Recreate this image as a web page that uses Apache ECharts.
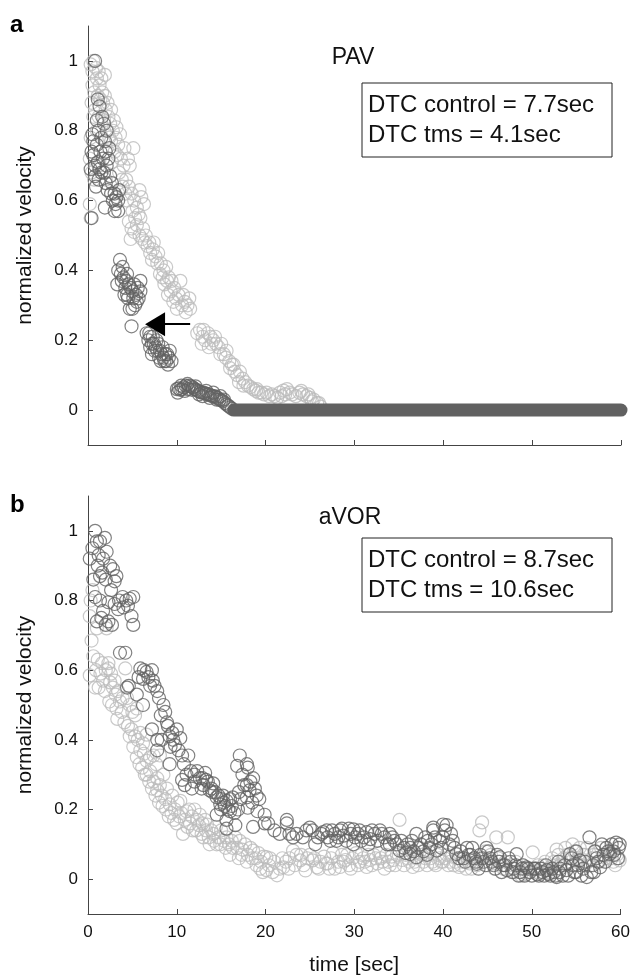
<!DOCTYPE html>
<html>
<head>
<meta charset="utf-8">
<script src="https://cdn.jsdelivr.net/npm/echarts@6/dist/echarts.min.js"></script>
<style>
  html, body { margin: 0; padding: 0; background: #fff; }
  #chart { width: 633px; height: 977px; }
</style>
</head>
<body>
<div id="chart"></div>
<script>
// panel a (PAV): control (light) and tms (dark), [time sec, normalized velocity]
const ctrlA = [
  [0.3,0.99],[0.6,1.0],[0.9,0.98],[1.2,0.97],[1.5,0.95],[1.9,0.96],[0.5,0.93],[0.4,0.88],[0.8,0.86],[1.1,0.9],
  [1.4,0.89],[1.7,0.88],[2.0,0.86],[2.3,0.84],[2.5,0.82],[2.2,0.8],[1.0,0.8],[0.3,0.78],[2.8,0.8],[3.1,0.78],
  [3.4,0.76],[2.6,0.77],[0.2,0.72],[0.4,0.68],[0.7,0.66],[1.2,0.7],[3.0,0.74],[3.7,0.72],[4.0,0.7],[3.5,0.68],
  [4.3,0.66],[4.7,0.7],[5.1,0.75],[4.6,0.64],[4.9,0.62],[5.2,0.6],[5.5,0.58],[4.2,0.62],[3.9,0.64],[5.8,0.63],
  [6.0,0.61],[6.3,0.59],[5.7,0.56],[0.2,0.59],[0.3,0.55],[2.0,0.66],
  [0.5,0.97],[1.0,0.95],[1.3,0.93],[0.7,0.91],[1.6,0.91],[1.9,0.9],[2.2,0.88],[0.6,0.84],[1.2,0.84],[1.8,0.83],
  [2.6,0.86],[2.9,0.83],[3.2,0.81],[2.4,0.78],[3.6,0.79],[3.3,0.73],[2.7,0.71],[4.1,0.75],[4.5,0.72],[3.8,0.66],
  [4.4,0.6],[5.0,0.57],[5.3,0.55],[5.9,0.55],
  [4.6,0.54],[4.9,0.52],[5.2,0.51],[5.5,0.53],[5.8,0.5],[6.1,0.49],[4.8,0.49],[6.4,0.48],[6.7,0.47],[6.2,0.52],
  [6.5,0.5],[6.9,0.48],[7.4,0.48],
  [7.0,0.45],[7.3,0.46],[7.6,0.44],[7.9,0.45],[7.2,0.43],[8.2,0.42],[7.8,0.42],[8.1,0.39],
  [8.5,0.4],[8.8,0.41],[9.1,0.38],[8.6,0.36],[9.4,0.37],[9.7,0.35],[9.0,0.33],[9.9,0.32],[10.2,0.33],[10.4,0.37],
  [10.6,0.3],[10.9,0.31],[11.2,0.3],[11.5,0.29],[10.0,0.29],[9.6,0.31],[11.0,0.28],[8.4,0.38],[8.9,0.37],[9.3,0.34],
  [10.7,0.33],[11.4,0.32],
  [12.3,0.22],[12.6,0.23],[12.9,0.21],[13.2,0.2],[13.5,0.22],[13.8,0.21],[14.1,0.2],[14.4,0.19],[14.7,0.18],[15.0,0.19],
  [12.8,0.19],[13.6,0.18],[15.3,0.16],[15.6,0.17],[15.9,0.14],[16.2,0.13],[16.0,0.12],[16.5,0.11],[16.8,0.1],[17.1,0.11],
  [13.0,0.23],[13.9,0.19],[14.3,0.21],[14.9,0.16],[15.5,0.15],[16.4,0.13],[17.0,0.08],[17.5,0.07],
  [17.4,0.09],[17.7,0.08],[18.0,0.07],[18.3,0.066],[18.6,0.06],[18.9,0.055],[19.2,0.05],[19.5,0.05],[19.8,0.045],[20.1,0.05],
  [20.4,0.04],[20.7,0.045],[21.0,0.04],[21.3,0.035],[21.6,0.05],[22.0,0.056],[22.4,0.06],[22.7,0.05],[23.0,0.045],[23.4,0.04],
  [23.8,0.05],[24.2,0.045],[24.6,0.04],[25.0,0.035],[25.4,0.03],[25.8,0.02],[26.2,0.01],[19.0,0.06],[21.8,0.04],[22.2,0.045],
  [24.0,0.055],[24.8,0.045],[25.2,0.025],[26.0,0.02]
]
const tmsA = [
  [0.8,1.0],[1.1,0.89],[1.3,0.87],[1.6,0.84],[1.8,0.82],[2.1,0.8],[1.9,0.77],[0.6,0.77],[0.4,0.74],[1.4,0.74],
  [1.1,0.71],[2.1,0.7],[2.3,0.72],[0.8,0.7],[0.3,0.69],[0.8,0.67],[1.5,0.68],[2.5,0.67],[2.7,0.65],[3.0,0.62],
  [3.2,0.61],[3.4,0.6],[1.9,0.58],[3.0,0.57],[0.4,0.55],[2.4,0.75],[1.7,0.72],
  [0.5,0.79],[1.0,0.83],[1.2,0.8],[1.5,0.78],[0.6,0.73],[1.0,0.76],[1.3,0.69],[1.8,0.68],[2.0,0.65],[2.2,0.63],
  [2.6,0.62],[2.8,0.6],[3.1,0.59],[1.2,0.66],[0.9,0.64],[3.4,0.57],[3.5,0.63],[2.0,0.74],
  [3.6,0.43],[3.4,0.4],[3.9,0.41],[4.4,0.39],[3.3,0.36],[3.8,0.37],[4.2,0.35],[4.6,0.36],[5.0,0.34],
  [5.9,0.37],[5.9,0.34],[5.6,0.35],[5.1,0.32],[5.5,0.31],[4.7,0.29],[5.3,0.3],[4.9,0.24],[4.4,0.33],
  [3.7,0.39],[4.0,0.38],[4.3,0.37],[4.8,0.35],[4.5,0.32],[5.2,0.36],[5.4,0.33],[5.7,0.32],[4.1,0.33],[5.0,0.29],
  [6.6,0.22],[6.8,0.2],[7.0,0.21],[7.2,0.19],[7.4,0.19],[7.6,0.18],[7.8,0.17],[8.1,0.17],[8.3,0.16],[8.5,0.15],
  [8.7,0.16],[8.9,0.16],[9.1,0.15],[9.4,0.14],[7.0,0.18],[7.7,0.2],[8.2,0.14],[8.8,0.14],
  [6.9,0.22],[7.3,0.21],[7.5,0.17],[7.9,0.19],[8.0,0.15],[8.4,0.18],[8.6,0.14],[9.0,0.13],[9.2,0.17],[7.2,0.16],
  [10.0,0.06],[10.2,0.062],[10.4,0.058],[10.6,0.06],[10.8,0.065],[11.0,0.07],[11.2,0.075],[11.4,0.07],[11.6,0.068],[11.8,0.065],
  [12.0,0.06],[12.2,0.058],[12.4,0.055],[12.6,0.052],[12.8,0.05],[13.0,0.05],[13.2,0.048],[13.4,0.045],[13.6,0.045],[13.8,0.042],
  [14.0,0.04],[14.2,0.04],[14.4,0.038],[14.6,0.035],[14.8,0.03],[15.0,0.028],[15.2,0.025],[15.4,0.02],[15.6,0.016],[15.8,0.012],
  [16.0,0.008],[16.2,0.004],
  [10.1,0.05],[10.5,0.07],[10.9,0.055],[11.3,0.06],[11.7,0.058],[12.1,0.068],[12.5,0.045],[12.9,0.04],[13.3,0.055],[13.7,0.035],
  [14.1,0.05],[14.5,0.03],[14.9,0.04],[15.3,0.03]
]
// tms samples sit on zero from here to the end of the record
const tmsFloorA = [[16.4, 0], [60, 0]]
const arrowA = [[11.5, 0.246], [7.55, 0.246]]

// panel b (aVOR)
const ctrlB = [
  [0.5,0.83],[0.2,0.755],[0.4,0.685],[0.2,0.585],[0.8,0.55],[1.1,0.63],[1.4,0.59],[1.7,0.57],[2.0,0.6],[2.3,0.62],
  [2.3,0.605],[2.5,0.565],[2.8,0.55],[3.1,0.53],[3.4,0.54],[3.6,0.51],[3.2,0.49],[3.9,0.52],[4.2,0.605],[4.4,0.52],
  [4.7,0.5],[5.0,0.48],[5.3,0.47],[5.5,0.49],[3.0,0.57],[1.0,0.72],[2.1,0.72],
  [0.3,0.8],[0.6,0.64],[0.9,0.6],[1.6,0.62],[2.6,0.59],[1.2,0.55],[1.9,0.54],[2.4,0.51],[2.7,0.5],[3.3,0.46],
  [3.8,0.48],[4.1,0.45],[4.5,0.44],[4.7,0.41],[5.1,0.38],[5.5,0.35],[5.8,0.33],[6.1,0.32],[6.4,0.3],[6.9,0.28],
  [7.2,0.26],[7.6,0.24],[8.0,0.22],[8.4,0.21],[8.8,0.2],[9.1,0.18],[9.4,0.19],[9.7,0.17],[10.0,0.16],[10.3,0.18],
  [4.9,0.43],[5.3,0.41],[5.6,0.4],[5.9,0.42],[6.2,0.39],[6.6,0.415],[5.9,0.37],[6.3,0.36],[6.6,0.34],
  [7.0,0.35],[7.4,0.355],[7.7,0.33],[8.1,0.355],[6.6,0.3],[7.0,0.31],[7.4,0.28],[7.8,0.29],[8.1,0.27],[8.5,0.3],
  [8.9,0.26],[7.8,0.255],[8.3,0.24],[8.7,0.23],[9.2,0.215],[9.5,0.24],[9.8,0.2],[10.1,0.22],[10.4,0.225],[10.7,0.13],[10.5,0.19],
  [11.1,0.195],[11.4,0.2],[11.7,0.18],[12.0,0.2],[12.3,0.17],[12.6,0.185],[12.9,0.16],[13.2,0.17],[13.4,0.157],[13.7,0.1],
  [13.9,0.14],[14.1,0.13],[14.4,0.15],[14.7,0.12],[15.0,0.14],[15.3,0.11],[15.6,0.12],[15.9,0.1],[16.3,0.09],[16.6,0.12],
  [17.1,0.11],[17.4,0.085],[17.7,0.1],[18.0,0.07],[18.3,0.09],[18.6,0.082],[18.9,0.06],[19.2,0.075],[19.5,0.05],[19.8,0.065],
  [11.5,0.16],[12.2,0.14],[13.0,0.12],[14.5,0.1],[16.0,0.07],[17.0,0.06],
  [10.9,0.17],[11.2,0.15],[11.8,0.14],[12.5,0.155],[12.8,0.13],[13.3,0.14],[13.6,0.12],[14.2,0.11],[14.9,0.1],[15.5,0.09],
  [16.2,0.11],[16.8,0.09],[17.3,0.07],[17.9,0.05],[18.5,0.06],[19.0,0.04],[19.4,0.03],[19.7,0.02],[20.5,0.06],[21.0,0.05],
  [20.1,0.063],[20.1,0.026],[20.4,0.04],[20.8,0.02],[21.3,0.011],[21.6,0.03],[22.0,0.034],[22.3,0.05],[22.7,0.06],[23.1,0.082],
  [23.5,0.07],[23.9,0.054],[24.3,0.04],[24.7,0.06],[25.3,0.054],[25.8,0.034],[26.2,0.05],[26.6,0.065],[27.0,0.045],[27.4,0.06],
  [27.8,0.03],[28.2,0.05],[28.6,0.07],[29.0,0.055],[29.4,0.04],[29.8,0.06],
  [21.9,0.06],[22.6,0.03],[23.3,0.04],[24.0,0.07],[24.5,0.025],[25.0,0.07],[25.5,0.06],[26.0,0.03],[26.8,0.045],[27.2,0.03],
  [27.6,0.075],[28.4,0.035],[28.8,0.05],[29.2,0.07],[29.6,0.03],
  [30.2,0.075],[30.6,0.05],[31.0,0.06],[31.4,0.035],[31.8,0.055],[32.2,0.07],[32.6,0.045],[33.0,0.06],[33.4,0.03],[33.8,0.05],
  [34.2,0.065],[34.6,0.04],[35.1,0.17],[35.4,0.055],[35.8,0.07],[36.2,0.05],[36.6,0.035],[37.0,0.06],[37.4,0.09],[37.8,0.05],
  [38.2,0.04],[38.6,0.06],[39.0,0.045],[39.4,0.07],[39.8,0.05],
  [30.4,0.04],[30.8,0.07],[31.2,0.05],[31.6,0.07],[32.0,0.04],[32.4,0.06],[32.8,0.075],[33.2,0.05],[33.6,0.07],[34.0,0.04],
  [34.4,0.055],[34.8,0.07],[35.6,0.04],[36.0,0.06],[36.4,0.08],[36.8,0.05],[37.2,0.04],[37.6,0.07],[38.0,0.06],[38.4,0.08],
  [38.8,0.05],[39.2,0.04],[39.6,0.06],
  [40.2,0.06],[40.6,0.04],[41.0,0.065],[41.4,0.05],[41.8,0.035],[42.2,0.05],[42.6,0.03],[43.0,0.045],[43.4,0.055],[43.8,0.04],
  [44.1,0.14],[44.4,0.163],[44.8,0.08],[45.2,0.06],[45.6,0.045],[46.0,0.12],[46.4,0.05],[46.8,0.03],[47.3,0.12],[47.6,0.04],
  [48.0,0.02],[48.4,0.035],[48.8,0.01],[49.2,0.03],[49.6,0.02],[50.1,0.077],
  [40.0,0.05],[40.4,0.07],[40.8,0.05],[41.2,0.04],[41.6,0.06],[42.0,0.04],[42.4,0.06],[42.8,0.05],[43.2,0.03],[43.6,0.06],
  [44.0,0.05],[44.6,0.06],[45.0,0.04],[45.4,0.07],[45.8,0.03],[46.2,0.06],[46.6,0.04],[47.0,0.05],[47.8,0.03],[48.2,0.05],
  [48.6,0.02],[49.0,0.04],[49.4,0.015],[49.8,0.03],
  [50.5,0.03],[50.9,0.015],[51.3,0.04],[51.7,0.02],[52.1,0.035],[52.5,0.05],[52.8,0.085],[53.2,0.04],[53.6,0.06],[54.0,0.07],
  [54.4,0.05],[54.8,0.08],[55.2,0.06],[55.6,0.04],[56.0,0.07],[56.4,0.05],[56.8,0.06],[57.2,0.08],[57.6,0.05],[58.0,0.07],
  [58.4,0.06],[58.8,0.08],[59.2,0.05],[59.6,0.07],[59.9,0.054],
  [50.3,0.02],[50.7,0.04],[51.1,0.03],[51.5,0.05],[51.9,0.03],[52.3,0.06],[52.7,0.04],[53.0,0.07],[53.4,0.05],[53.8,0.09],
  [54.2,0.06],[54.6,0.1],[55.0,0.05],[55.4,0.09],[55.8,0.07],[56.2,0.09],[56.6,0.04],[57.0,0.07],[57.4,0.05],[57.8,0.09],
  [58.2,0.05],[58.6,0.07],[59.0,0.06],[59.4,0.04],[59.8,0.06]
]
const tmsB = [
  [0.2,0.92],[0.8,1.0],[1.0,0.97],[1.35,0.97],[1.9,0.98],[2.1,0.94],[1.7,0.92],[1.1,0.9],[2.5,0.9],[2.8,0.89],
  [1.35,0.87],[3.2,0.87],[3.0,0.855],[0.8,0.81],[1.35,0.8],[2.3,0.795],[3.0,0.79],[4.3,0.8],[5.1,0.81],[4.7,0.805],
  [3.4,0.775],[4.5,0.785],[1.0,0.74],[2.3,0.74],[2.7,0.73],[4.9,0.755],[5.1,0.73],[3.6,0.65],[4.2,0.65],[4.4,0.55],
  [4.6,0.555],[1.6,0.88],
  [0.5,0.95],[1.2,0.93],[0.6,0.86],[2.0,0.86],[2.6,0.83],[3.5,0.8],[3.9,0.81],[4.0,0.78],[1.7,0.77],[1.5,0.75],[2.0,0.73],
  [5.9,0.605],[6.3,0.6],[6.6,0.595],[7.2,0.6],[6.2,0.575],[7.0,0.555],[7.5,0.555],[7.8,0.54],[7.3,0.57],[5.5,0.53],
  [6.2,0.5],[8.5,0.5],[8.7,0.48],[7.2,0.43],[7.8,0.4],[7.8,0.37],[9.0,0.44],[9.2,0.41],[9.5,0.42],[10.0,0.43],
  [10.4,0.405],[9.8,0.385],[10.6,0.355],[11.3,0.355],[9.2,0.33],[8.3,0.4],[9.6,0.4],
  [5.7,0.58],[6.8,0.58],[8.0,0.52],[8.2,0.47],[8.9,0.45],[9.3,0.38],[10.2,0.37],[10.8,0.33],[11.1,0.3],[11.6,0.31],
  [10.6,0.285],[10.9,0.27],[11.7,0.26],[12.3,0.31],[12.6,0.29],[13.2,0.305],[13.5,0.28],[14.1,0.275],[12.8,0.26],[13.7,0.255],
  [14.5,0.235],[14.9,0.215],[15.2,0.24],[15.6,0.225],[16.0,0.23],[16.3,0.235],[16.0,0.195],[14.5,0.185],[15.6,0.17],[16.6,0.155],
  [15.6,0.145],[17.1,0.355],[16.8,0.325],[17.4,0.3],[17.9,0.33],[18.0,0.32],[18.6,0.29],[17.9,0.27],[18.2,0.255],[19.0,0.24],
  [17.9,0.235],[18.0,0.205],[19.1,0.195],[18.6,0.15],[19.9,0.185],[19.9,0.16],[12.0,0.28],[13.0,0.27],[14.0,0.25],[15.0,0.2],
  [17.0,0.25],[18.5,0.22],[15.3,0.22],
  [12.0,0.3],[12.9,0.29],[13.3,0.285],[13.9,0.26],[14.3,0.25],[14.7,0.24],[15.0,0.23],[15.4,0.21],[15.8,0.2],[16.2,0.21],
  [16.5,0.19],[16.9,0.2],[17.2,0.23],[17.6,0.27],[18.3,0.28],[18.8,0.26],[19.3,0.23],
  [22.4,0.16],[21.6,0.13],[22.7,0.13],[23.1,0.12],[22.4,0.17],[25.0,0.148],[25.6,0.1],[25.3,0.14],[26.3,0.13],[26.5,0.135],
  [27.0,0.12],[27.5,0.14],[28.0,0.11],[28.4,0.14],[28.8,0.125],[29.4,0.145],[29.9,0.1],[29.9,0.143],
  [20.3,0.16],[21.0,0.14],[23.5,0.13],[24.2,0.12],[24.6,0.14],[25.9,0.12],[26.9,0.14],[27.3,0.11],[27.8,0.13],[28.2,0.12],
  [28.6,0.145],[29.1,0.11],[29.6,0.13],
  [30.4,0.13],[30.8,0.11],[31.4,0.135],[31.8,0.115],[32.3,0.13],[32.9,0.14],[33.4,0.12],[34.0,0.13],[34.0,0.1],[34.5,0.11],
  [34.8,0.1],[35.1,0.082],[35.6,0.09],[36.0,0.1],[36.3,0.09],[36.3,0.072],[36.7,0.08],[37.0,0.13],[37.0,0.063],[37.5,0.1],
  [38.0,0.12],[38.2,0.07],[38.5,0.09],[38.9,0.14],[38.9,0.148],[39.3,0.082],[39.6,0.11],[40.0,0.157],[40.0,0.12],
  [30.1,0.12],[30.6,0.14],[31.1,0.12],[31.6,0.1],[32.0,0.14],[32.6,0.11],[33.1,0.13],[33.7,0.1],[34.3,0.12],[35.3,0.11],
  [35.8,0.075],[36.5,0.11],[37.2,0.09],[37.8,0.08],[38.3,0.11],[38.7,0.1],[39.1,0.12],[39.8,0.09],
  [40.4,0.155],[40.7,0.1],[41.1,0.11],[41.5,0.072],[42.0,0.08],[42.3,0.06],[42.7,0.09],[43.1,0.07],[43.5,0.06],[43.8,0.044],
  [44.2,0.07],[44.6,0.05],[44.9,0.09],[45.3,0.06],[45.7,0.04],[46.1,0.07],[46.4,0.063],[46.8,0.04],[47.2,0.026],[47.6,0.05],
  [48.0,0.03],[48.3,0.072],[48.7,0.02],[49.0,0.04],[49.4,0.034],[49.8,0.02],
  [40.2,0.14],[40.9,0.13],[41.3,0.09],[41.8,0.06],[42.5,0.05],[42.9,0.07],[43.3,0.09],[43.7,0.05],[44.0,0.03],[44.4,0.06],
  [44.8,0.04],[45.1,0.08],[45.5,0.05],[45.9,0.03],[46.3,0.05],[46.6,0.02],[47.0,0.04],[47.4,0.06],[47.8,0.02],[48.2,0.04],
  [48.5,0.01],[48.9,0.03],[49.2,0.01],[49.6,0.03],
  [50.2,0.03],[50.6,0.014],[51.0,0.03],[51.4,0.01],[51.7,0.026],[52.1,0.01],[52.5,0.02],[52.8,0.006],[53.2,0.03],[53.5,0.01],
  [53.9,0.026],[54.3,0.072],[54.6,0.04],[55.0,0.02],[55.4,0.054],[55.8,0.03],[56.2,0.006],[56.5,0.12],[56.9,0.04],[57.3,0.06],
  [57.7,0.034],[58.1,0.07],[58.4,0.09],[58.8,0.072],[59.2,0.08],[59.5,0.105],[59.8,0.09],[57.0,0.02],[55.0,0.08],[53.0,0.05],
  [50.0,0.01],[50.4,0.03],[50.8,0.01],[51.2,0.02],[51.6,0.04],[51.9,0.015],[52.3,0.03],[52.7,0.01],[53.1,0.02],[53.7,0.04],
  [54.1,0.01],[54.5,0.06],[54.8,0.02],[55.2,0.04],[55.6,0.01],[56.0,0.05],[56.7,0.02],[57.1,0.08],[57.5,0.05],[57.9,0.1],
  [58.3,0.05],[58.6,0.08],[59.0,0.1],[59.3,0.07],[59.7,0.06],[59.9,0.1]
]

const yTicks = [0, 0.2, 0.4, 0.6, 0.8, 1]

const FONT = "'Liberation Sans', Arial, sans-serif"
const LIGHT = '#bcbcbc'
const DARK = '#616161'
const AXIS = '#444'

const chart = echarts.init(document.getElementById('chart'), null, { renderer: 'canvas' })

const xAxisBase = (gridIndex, showLabel) => ({
  gridIndex,
  type: 'value',
  min: 0,
  max: 60,
  interval: 10,
  name: showLabel ? 'time [sec]' : '',
  nameLocation: 'middle',
  nameGap: 41,
  nameTextStyle: { color: '#111', fontSize: 21, fontFamily: FONT },
  axisLine: { onZero: false, lineStyle: { color: AXIS, width: 1 } },
  axisTick: { inside: true, length: 5, lineStyle: { color: AXIS } },
  axisLabel: { show: showLabel, color: '#111', fontSize: 17, fontFamily: FONT, margin: 10 },
  splitLine: { show: false },
})

const yAxisBase = (gridIndex) => ({
  gridIndex,
  type: 'value',
  min: -0.1,
  max: 1.1,
  name: 'normalized velocity',
  nameLocation: 'middle',
  nameRotate: 90,
  nameGap: 52,
  nameTextStyle: { color: '#111', fontSize: 21, fontFamily: FONT },
  axisLine: { onZero: false, lineStyle: { color: AXIS, width: 1 } },
  axisTick: { inside: true, length: 5, lineStyle: { color: AXIS }, customValues: yTicks },
  axisLabel: { color: '#111', fontSize: 17, fontFamily: FONT, margin: 10, customValues: yTicks,
    formatter: v => String(Math.round(v * 10) / 10) },
  splitLine: { show: false },
})

const scatter = (name, data, color, idx) => ({
  name,
  type: 'scatter',
  xAxisIndex: idx,
  yAxisIndex: idx,
  data,
  symbol: 'circle',
  symbolSize: 13,
  itemStyle: { color: 'rgba(0,0,0,0)', borderColor: color, borderWidth: 1.2 },
  silent: true,
})

const boxText = (y, lines) => ([
  { type: 'rect', shape: { x: 362, y, width: 250, height: 74 },
    style: { fill: '#fff', stroke: '#222', lineWidth: 1 } },
  { type: 'text', x: 368, y: y + 22, style: { text: lines[0], font: `24px ${FONT}`, fill: '#111', textVerticalAlign: 'middle' } },
  { type: 'text', x: 368, y: y + 52, style: { text: lines[1], font: `24px ${FONT}`, fill: '#111', textVerticalAlign: 'middle' } },
])

const option = {
  animation: false,
  backgroundColor: '#fff',
  grid: [
    { left: 88, right: 12, top: 26, height: 419 },
    { left: 88, right: 12, top: 496, height: 421 },
  ],
  xAxis: [xAxisBase(0, false), xAxisBase(1, true)],
  yAxis: [yAxisBase(0), yAxisBase(1)],
  graphic: [
    { type: 'text', x: 10, y: 25, style: { text: 'a', font: `bold 24px ${FONT}`, fill: '#000', textVerticalAlign: 'middle' } },
    { type: 'text', x: 10, y: 505, style: { text: 'b', font: `bold 24px ${FONT}`, fill: '#000', textVerticalAlign: 'middle' } },
    { type: 'text', x: 353, y: 58, style: { text: 'PAV', font: `23px ${FONT}`, fill: '#111', textAlign: 'center', textVerticalAlign: 'middle' } },
    { type: 'text', x: 350, y: 518, style: { text: 'aVOR', font: `23px ${FONT}`, fill: '#111', textAlign: 'center', textVerticalAlign: 'middle' } },
    ...boxText(83, ['DTC control = 7.7sec', 'DTC tms = 4.1sec']),
    ...boxText(538, ['DTC control = 8.7sec', 'DTC tms = 10.6sec']),
  ],
  series: [
    scatter('control', ctrlA, LIGHT, 0),
    scatter('tms', tmsA, DARK, 0),
    {
      name: 'tms floor',
      type: 'line',
      xAxisIndex: 0,
      yAxisIndex: 0,
      data: tmsFloorA,
      symbol: 'none',
      silent: true,
      lineStyle: { color: DARK, width: 13, cap: 'round' },
      markLine: {
        silent: true,
        symbol: ['none', 'triangle'],
        symbolSize: [24, 20],
        label: { show: false },
        lineStyle: { color: '#000', width: 2, type: 'solid' },
        data: [[{ coord: arrowA[0] }, { coord: arrowA[1] }]],
      },
    },
    scatter('control', ctrlB, LIGHT, 1),
    scatter('tms', tmsB, DARK, 1),
  ],
}

chart.setOption(option)
</script>
</body>
</html>
